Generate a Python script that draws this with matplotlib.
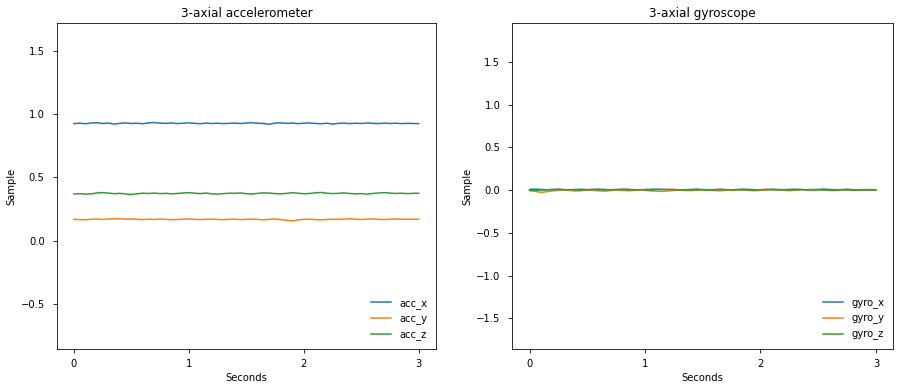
import numpy as np
import matplotlib
matplotlib.use("Agg")
import matplotlib.pyplot as plt

# sinais (3 s de amostra) ---------------------------------
acc_x = [0.925, 0.928, 0.924, 0.930, 0.932, 0.926, 0.929, 0.921, 0.927, 0.930, 0.926, 0.928, 0.924, 0.931, 0.933,
         0.929, 0.927, 0.930, 0.925, 0.928, 0.931, 0.927, 0.924, 0.929, 0.926, 0.928, 0.925, 0.927, 0.929, 0.926,
         0.930, 0.932, 0.928, 0.926, 0.920, 0.929, 0.931, 0.927, 0.929, 0.925, 0.928, 0.930, 0.926, 0.924, 0.928,
         0.921, 0.927, 0.929, 0.925, 0.928, 0.926, 0.930, 0.927, 0.925, 0.929, 0.926, 0.928, 0.925, 0.927, 0.926, 0.925]
acc_y = [0.170, 0.168, 0.167, 0.171, 0.173, 0.169, 0.172, 0.176, 0.174, 0.171, 0.173, 0.170, 0.168, 0.171, 0.169,
         0.172, 0.170, 0.167, 0.169, 0.171, 0.173, 0.170, 0.168, 0.170, 0.172, 0.169, 0.167, 0.170, 0.171, 0.168,
         0.170, 0.172, 0.169, 0.167, 0.170, 0.173, 0.168, 0.163, 0.158, 0.165, 0.170, 0.171, 0.168, 0.166, 0.169,
         0.171, 0.170, 0.172, 0.175, 0.171, 0.169, 0.171, 0.173, 0.170, 0.168, 0.171, 0.173, 0.170, 0.172, 0.171, 0.172]
acc_z = [0.370, 0.372, 0.369, 0.371, 0.378, 0.381, 0.377, 0.372, 0.375, 0.370, 0.366, 0.372, 0.376, 0.374, 0.377,
         0.373, 0.375, 0.371, 0.374, 0.378, 0.380, 0.376, 0.373, 0.377, 0.371, 0.369, 0.373, 0.376, 0.375, 0.378,
         0.372, 0.370, 0.375, 0.379, 0.377, 0.373, 0.371, 0.375, 0.380, 0.376, 0.372, 0.374, 0.379, 0.382, 0.376,
         0.373, 0.375, 0.378, 0.374, 0.371, 0.373, 0.369, 0.374, 0.378, 0.381, 0.377, 0.374, 0.376, 0.373, 0.375, 0.376]

gyro_x = [0.010, 0.012, 0.008, 0.005, 0.009, 0.011, 0.007, 0.004, 0.008, 0.010, 0.006, 0.009, 0.012, 0.008, 0.005,
          0.007, 0.010, 0.011, 0.006, 0.004, 0.008, 0.010, 0.012, 0.009, 0.005, 0.007, 0.003, 0.006, 0.009, 0.011,
          0.008, 0.005, 0.007, 0.010, 0.006, 0.004, 0.008, 0.011, 0.009, 0.006, 0.003, 0.007, 0.010, 0.008, 0.005,
          0.009, 0.011, 0.007, 0.004, 0.006, 0.009, 0.012, 0.008, 0.005, 0.007, 0.010, 0.006, 0.004, 0.007, 0.006, 0.005]
gyro_y = [-0.005, -0.015, -0.025, -0.018, -0.008, -0.003, 0.002, -0.004, -0.010, -0.006, 0.001, -0.003, -0.008,
          -0.012, -0.006, 0.000, -0.002, -0.007, -0.004, 0.002, -0.003, -0.009, -0.012, -0.015, -0.010, -0.004,
          0.001, -0.003, -0.006, -0.002, 0.003, 0.000, -0.005, -0.008, -0.004, 0.001, 0.004, 0.000, -0.004, -0.007,
          -0.003, 0.002, 0.005, 0.001, -0.003, -0.006, -0.002, 0.003, 0.006, 0.008, 0.004, -0.001, -0.005, -0.002,
          0.002, 0.000, -0.004, -0.002, 0.001, 0.000, -0.001]
gyro_z = [0.000, -0.003, 0.002, 0.005, 0.003, 0.007, 0.004, 0.006, 0.003, 0.001, 0.004, 0.007, 0.005, 0.002, 0.004,
          0.006, 0.008, 0.005, 0.003, 0.006, 0.004, 0.002, 0.005, 0.007, 0.009, 0.006, 0.003, 0.001, 0.004, 0.006,
          0.003, 0.000, 0.004, 0.007, 0.005, 0.002, 0.004, 0.006, 0.003, 0.001, 0.005, 0.008, 0.006, 0.003, 0.005,
          0.002, 0.004, 0.007, 0.004, 0.001, 0.003, 0.005, 0.002, -0.001, 0.003, 0.005, 0.002, 0.000, 0.003, 0.002, 0.001]

duracao = 3  # segundos

fig = plt.figure(figsize=(903 / 72, 391 / 72), dpi=72)
ax1 = fig.add_axes([0.0628, 0.1066, 0.4200, 0.8338])
ax2 = fig.add_axes([0.5673, 0.1066, 0.4219, 0.8338])

# acelerometro
for serie, nome in [(acc_x, 'acc_x'), (acc_y, 'acc_y'), (acc_z, 'acc_z')]:
    t = np.linspace(0, duracao, len(serie))
    ax1.plot(t, serie, label=nome)
ax1.set_ylim(-0.855, 1.716)
ax1.set_title("3-axial accelerometer")
ax1.set_xlabel("Seconds")
ax1.set_ylabel("Sample")
ax1.legend(loc='lower right', frameon=False)

# giroscopio
for serie, nome in [(gyro_x, 'gyro_x'), (gyro_y, 'gyro_y'), (gyro_z, 'gyro_z')]:
    t = np.linspace(0, duracao, len(serie))
    ax2.plot(t, serie, label=nome)
ax2.set_ylim(-1.863, 1.953)
ax2.set_title("3-axial gyroscope")
ax2.set_xlabel("Seconds")
ax2.set_ylabel("Sample")
ax2.legend(loc='lower right', frameon=False)

for ax in (ax1, ax2):
    ax.set_xticks([0, 1, 2, 3])
    ax.tick_params(axis='x', pad=6, length=4)
    ax.tick_params(axis='y', pad=8, length=4)

fig.savefig('out.png', dpi=72)
